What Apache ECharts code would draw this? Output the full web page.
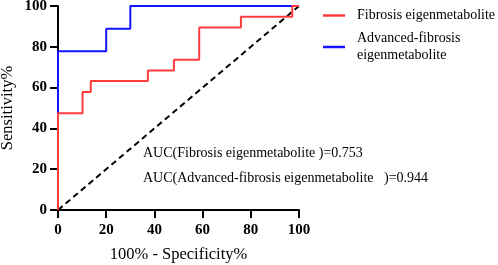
<!DOCTYPE html>
<html>
<head>
<meta charset="utf-8">
<script src="https://cdn.jsdelivr.net/npm/echarts@6/dist/echarts.min.js"></script>
<style>
  html, body { margin: 0; padding: 0; background: #fff; }
  #roc { width: 498px; height: 265px; }
</style>
</head>
<body>
<div id="roc"></div>
<script>
// ROC points (x = 100% - specificity, y = sensitivity)
const axisTicks = [0, 20, 40, 60, 80, 100];
const fibrosisFpr = [0, 0, 10.2, 13.6, 37.3, 48.1, 58.6, 75.9, 97.2, 100];
const fibrosisTpr = [0, 47.4, 57.9, 63.2, 68.4, 73.7, 89.5, 94.7, 100, 100];
const advancedFpr = [0, 0, 20, 30, 100];
const advancedTpr = [0, 77.8, 88.9, 100, 100];
const chanceX = [0, 100];
const chanceY = [0, 100];
const seriesNames = ['Fibrosis eigenmetabolite', 'Advanced-fibrosis\neigenmetabolite'];
const aucLabels = [
  'AUC(Fibrosis eigenmetabolite )=0.753',
  'AUC(Advanced-fibrosis eigenmetabolite   )=0.944'
];

const serif = "'Liberation Serif', 'Times New Roman', serif";
const zip = (xs, ys) => xs.map((x, i) => [x, ys[i]]);

const axisCommon = {
  type: 'value',
  min: axisTicks[0],
  max: axisTicks[axisTicks.length - 1],
  interval: 20,
  splitLine: { show: false },
  axisLine: { show: true, lineStyle: { color: '#000', width: 2 } },
  axisTick: { show: true, length: 8, lineStyle: { color: '#000', width: 2 } },
  nameLocation: 'middle',
  nameTextStyle: { fontFamily: serif, fontSize: 16.5, color: '#000' }
};

const chart = echarts.init(document.getElementById('roc'));
chart.setOption({
  animation: false,
  backgroundColor: '#fff',
  grid: { left: 58, right: 199, top: 6, bottom: 55, outerBoundsMode: 'none' },
  xAxis: Object.assign({}, axisCommon, {
    name: '100% - Specificity%',
    nameGap: 36,
    axisLabel: { margin: 13, fontFamily: serif, fontWeight: 'bold', fontSize: 15, color: '#000' }
  }),
  yAxis: Object.assign({}, axisCommon, {
    name: 'Sensitivity%',
    nameGap: 42,
    axisLabel: { margin: 11, fontFamily: serif, fontWeight: 'bold', fontSize: 15, color: '#000' }
  }),
  legend: {
    orient: 'vertical',
    left: 318,
    top: 2,
    itemGap: 6,
    itemWidth: 22,
    itemHeight: 2.5,
    icon: 'rect',
    data: seriesNames,
    textStyle: { fontFamily: serif, fontSize: 14, color: '#000', lineHeight: 17, padding: [0, 0, 0, 7] }
  },
  graphic: [
    { type: 'text', left: 143, top: 146, style: { text: aucLabels[0], font: '14px ' + serif, fill: '#000' } },
    { type: 'text', left: 143, top: 171, style: { text: aucLabels[1], font: '14px ' + serif, fill: '#000' } }
  ],
  series: [
    {
      name: 'chance',
      type: 'line',
      data: zip(chanceX, chanceY),
      symbol: 'none',
      clip: false,
      lineStyle: { color: '#000', width: 2, type: [6, 4] }
    },
    {
      name: seriesNames[1],
      type: 'line',
      step: 'end',
      data: zip(advancedFpr, advancedTpr),
      symbol: 'none',
      clip: false,
      color: '#1414ff',
      lineStyle: { color: '#1414ff', width: 2 }
    },
    {
      name: seriesNames[0],
      type: 'line',
      step: 'end',
      data: zip(fibrosisFpr, fibrosisTpr),
      symbol: 'none',
      clip: false,
      color: '#ff3c3c',
      lineStyle: { color: '#ff3c3c', width: 2 }
    }
  ]
});
</script>
</body>
</html>
